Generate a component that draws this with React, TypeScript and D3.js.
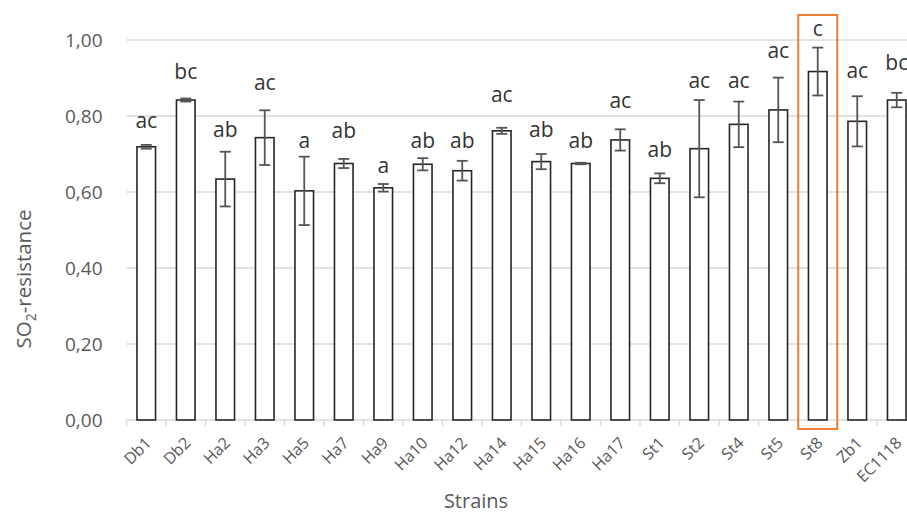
import React from "react";
import * as d3 from "d3";

const strains = ["Db1","Db2","Ha2","Ha3","Ha5","Ha7","Ha9","Ha10","Ha12","Ha14","Ha15","Ha16","Ha17","St1","St2","St4","St5","St8","Zb1","EC1118"];
const means = [0.719,0.842,0.634,0.743,0.603,0.675,0.611,0.673,0.656,0.761,0.680,0.675,0.737,0.636,0.714,0.778,0.816,0.917,0.786,0.842];
const errors = [0.005,0.004,0.072,0.072,0.090,0.012,0.010,0.016,0.026,0.008,0.020,0.002,0.028,0.013,0.128,0.060,0.085,0.063,0.066,0.019];
const groups = ["ac","bc","ab","ac","a","ab","a","ab","ab","ac","ab","ab","ac","ab","ac","ac","ac","c","ac","bc"];
// level (in SO2-resistance units) on which each group letter sits
const groupLevels = [0.768,0.897,0.744,0.868,0.715,0.741,0.649,0.715,0.715,0.838,0.746,0.715,0.821,0.693,0.873,0.873,0.952,1.011,0.901,0.921];
const yTicks = [0, 0.2, 0.4, 0.6, 0.8, 1.0];
const highlighted = "St8";

const W = 907, H = 515;
const plotLeft = 126.5, plotTop = 40, plotBottom = 420;
const step = 39.5;

export default function App() {
  const x = d3.scaleBand<string>()
    .domain(strains)
    .range([plotLeft, plotLeft + step * strains.length])
    .paddingInner(0.53)
    .paddingOuter(0.265);
  const y = d3.scaleLinear().domain([0, 1]).range([plotBottom, plotTop]);
  const fmt = (v: number) => d3.format(".2f")(v).replace(".", ",");
  const font = "'Open Sans', sans-serif";
  const bw = x.bandwidth();
  const cap = 11;

  const hx = x(highlighted)!;
  const hc = hx + bw / 2;

  return (
    <svg width={W} height={H} style={{ position: "absolute", left: 0, top: 0, background: "#fff" }} fontFamily={font}>
      {/* gridlines */}
      {yTicks.map((t) => (
        <line key={"g" + t} x1={plotLeft} x2={W} y1={y(t)} y2={y(t)} stroke="#d9d9d9" strokeWidth={1.5} />
      ))}
      {/* category ticks */}
      {d3.range(strains.length + 1).map((i) => (
        <line key={"t" + i} x1={plotLeft + i * step} x2={plotLeft + i * step} y1={plotBottom} y2={plotBottom + 6} stroke="#d9d9d9" strokeWidth={1.5} />
      ))}
      {/* y tick labels */}
      {yTicks.map((t) => (
        <text key={"yl" + t} x={102.5} y={y(t)} dy="0.35em" textAnchor="end" fontSize={19} fill="#595959">{fmt(t)}</text>
      ))}
      {/* bars */}
      {strains.map((s, i) => (
        <rect key={"b" + s} x={x(s)!} y={y(means[i])} width={bw} height={plotBottom - y(means[i])} fill="#fff" stroke="#262626" strokeWidth={1.6} />
      ))}
      {/* error bars */}
      {strains.map((s, i) => {
        const cx = x(s)! + bw / 2;
        const y1 = y(means[i] + errors[i]);
        const y2 = y(means[i] - errors[i]);
        return (
          <g key={"e" + s} stroke="#555" strokeWidth={1.8}>
            <line x1={cx} x2={cx} y1={y1} y2={y2} />
            <line x1={cx - cap / 2} x2={cx + cap / 2} y1={y1} y2={y1} />
            <line x1={cx - cap / 2} x2={cx + cap / 2} y1={y2} y2={y2} />
          </g>
        );
      })}
      {/* significance letters */}
      {strains.map((s, i) => (
        <text key={"l" + s} x={x(s)! + bw / 2} y={y(groupLevels[i])} textAnchor="middle" fontSize={21} fill="#333">{groups[i]}</text>
      ))}
      {/* x tick labels */}
      {strains.map((s) => {
        const cx = x(s)! + bw / 2 + 6;
        const ty = 444;
        return (
          <text key={"xl" + s} transform={`translate(${cx},${ty}) rotate(-45)`} textAnchor="end" fontSize={16} fill="#595959">{s}</text>
        );
      })}
      {/* highlight frame */}
      <rect x={hc - 19.5} y={15} width={39} height={414} fill="none" stroke="#ed7d31" strokeWidth={2} />
      {/* axis titles */}
      <text x={476} y={508} textAnchor="middle" fontSize={20} fill="#595959">Strains</text>
      <text transform={`translate(31,279) rotate(-90)`} textAnchor="middle" fontSize={20.5} fill="#595959">
        SO<tspan fontSize={14} dy={5}>2</tspan><tspan dy={-5}>-resistance</tspan>
      </text>
    </svg>
  );
}
